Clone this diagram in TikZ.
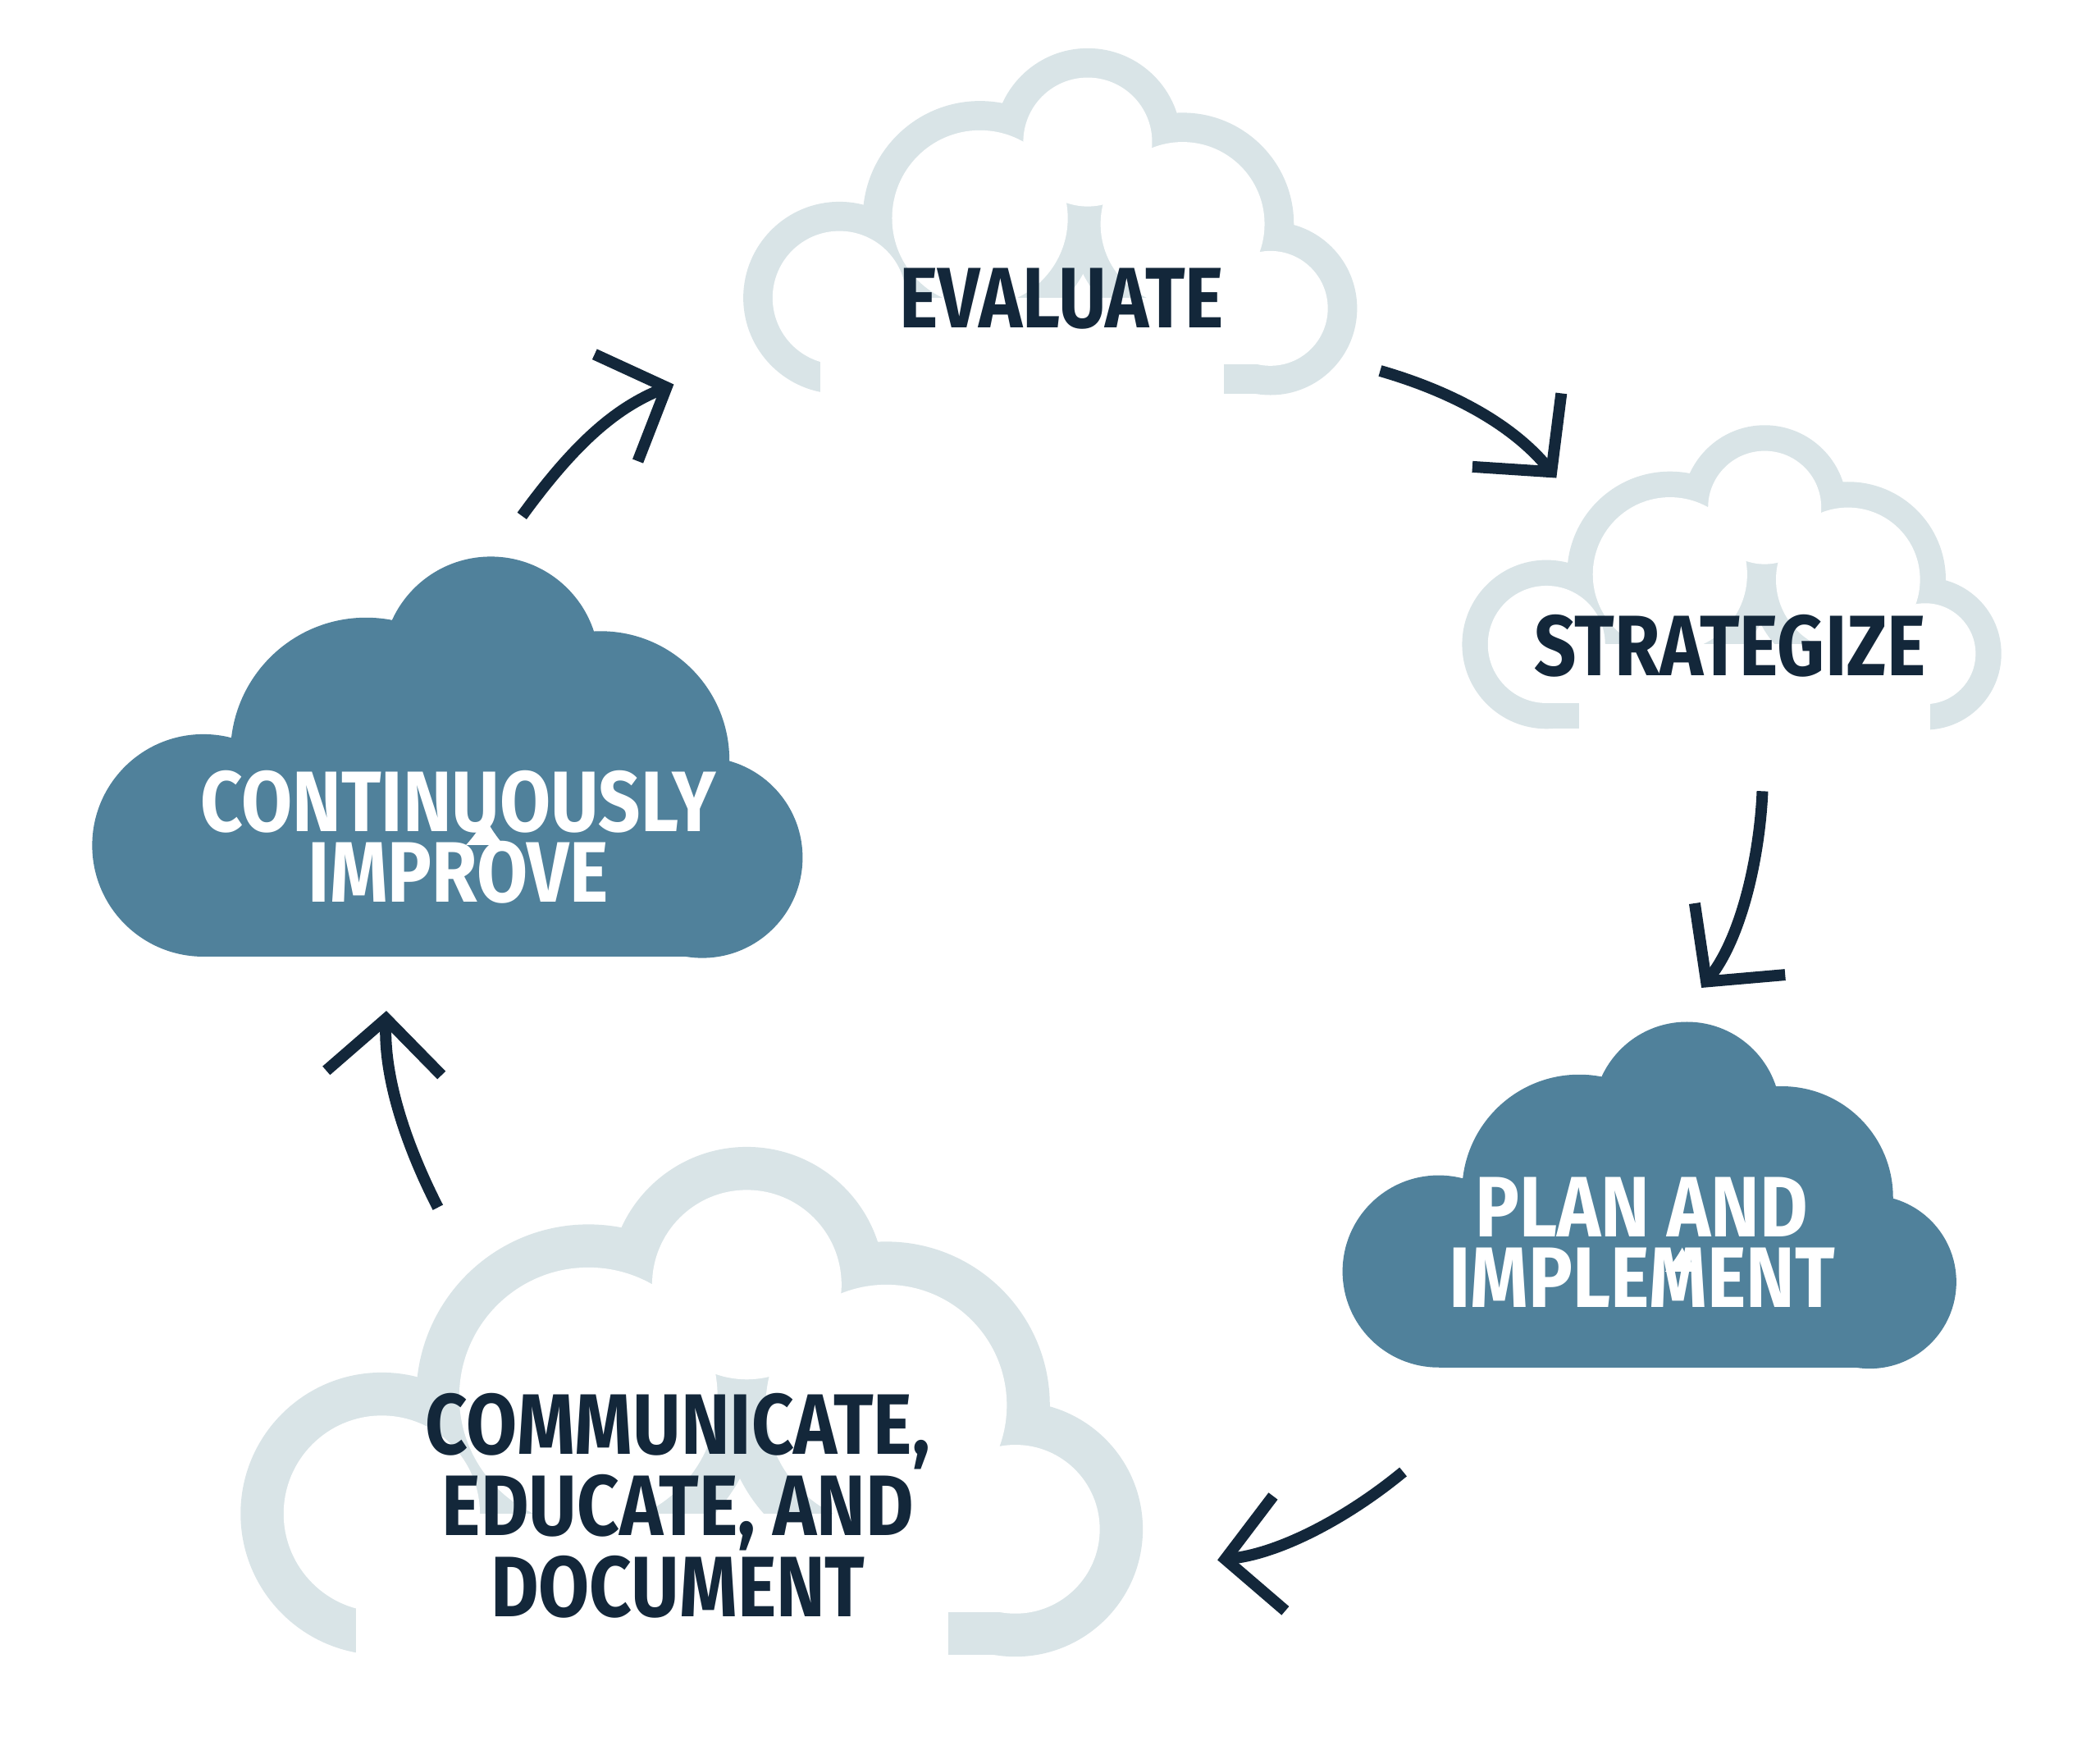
\documentclass[tikz,border=0pt]{standalone}
\usepackage{fontspec}
\setmainfont[FakeStretch=0.86]{Fira Sans}
\usetikzlibrary{arrows.meta,positioning,calc}
\definecolor{steel}{HTML}{50819B}
\definecolor{mist}{HTML}{D9E4E7}
\definecolor{ink}{HTML}{13273A}

% cloud made of bumps, local units, origin at bottom left
\newcommand\cloudbody[1]{%
  \fill (80,82) circle[radius=82-#1];
  \fill (200,150) circle[radius=100-#1];
  \fill (292,215) circle[radius=80-#1];
  \fill (373,145) circle[radius=95-#1];
  \fill (448,73) circle[radius=74-#1];
  \fill (80,#1) rectangle (448,82);}

\tikzset{
  label/.style={text=#1, font=\bfseries\fontsize{18}{14.8}\selectfont, align=center, inner sep=0pt},
  flow/.style={ink, line width=2.4pt, -{Straight Barb[length=4mm,width=8.5mm,line width=2.4pt]}}
}

\begin{document}
\begin{tikzpicture}[x=0.01cm, y=0.01cm]
\fill[white] (0,0) rectangle (1549,1290.5);
\useasboundingbox (0,0) rectangle (1549,1290.5);

% filled clouds
\begin{scope}[steel, shift={(70,585)}]
  \cloudbody{0}
\end{scope}
\begin{scope}[steel, shift={(992,282)}, scale=0.864]
  \cloudbody{0}
\end{scope}

% outlined clouds
\begin{scope}[shift={(550,1000)}, scale=0.864]
  \begin{scope}[mist]\cloudbody{0}\end{scope}
  \begin{scope}[white]\cloudbody{25}\end{scope}
  \fill[white] (64,-2) rectangle (408,30);
\end{scope}
\begin{scope}[shift={(1080,753)}, scale=0.759]
  \begin{scope}[mist]\cloudbody{0}\end{scope}
  \begin{scope}[white]\cloudbody{25}\end{scope}
  \fill[white] (112,-2) rectangle (453,30);
\end{scope}
\begin{scope}[shift={(180,70)}, scale=1.27]
  \begin{scope}[mist]\cloudbody{0}\end{scope}
  \begin{scope}[white]\cloudbody{25}\end{scope}
  \fill[white] (65,-2) rectangle (409,30);
\end{scope}

% labels
\node[label=ink] (evaluate) at (783,1070) {EVALUATE};
\node[label=ink] (strategize) at (1276,814) {STRATEGIZE};
\node[label=white] (improve) at (338,673) {CONTINUOUSLY\\IMPROVE};
\node[label=white] (plan) at (1211,374) {PLAN AND\\IMPLEMENT};
\node[label=ink] (communicate) at (500,180) {COMMUNICATE,\\EDUCATE, AND\\DOCUMENT};

% arrow ends
\coordinate (a1) at (385,910);   \coordinate (b1) at (497,1007);
\coordinate (a2) at (1018,1017); \coordinate (b2) at (1148,938);
\coordinate (a3) at (1300,707);  \coordinate (b3) at (1255,562);
\coordinate (a4) at (1035,205);  \coordinate (b4) at (898,140);
\coordinate (a5) at (323,400);   \coordinate (b5) at (285,545);

\draw[flow] (a1) .. controls (425,965) and (455,990) .. (b1);
\draw[flow] (a2) .. controls (1070,1002) and (1115,978) .. (b2);
\draw[flow] (a3) .. controls (1298,660) and (1285,600) .. (b3);
\draw[flow] (a4) .. controls (995,172) and (945,145) .. (b4);
\draw[flow] (a5) .. controls (300,445) and (283,495) .. (b5);
\end{tikzpicture}
\end{document}
